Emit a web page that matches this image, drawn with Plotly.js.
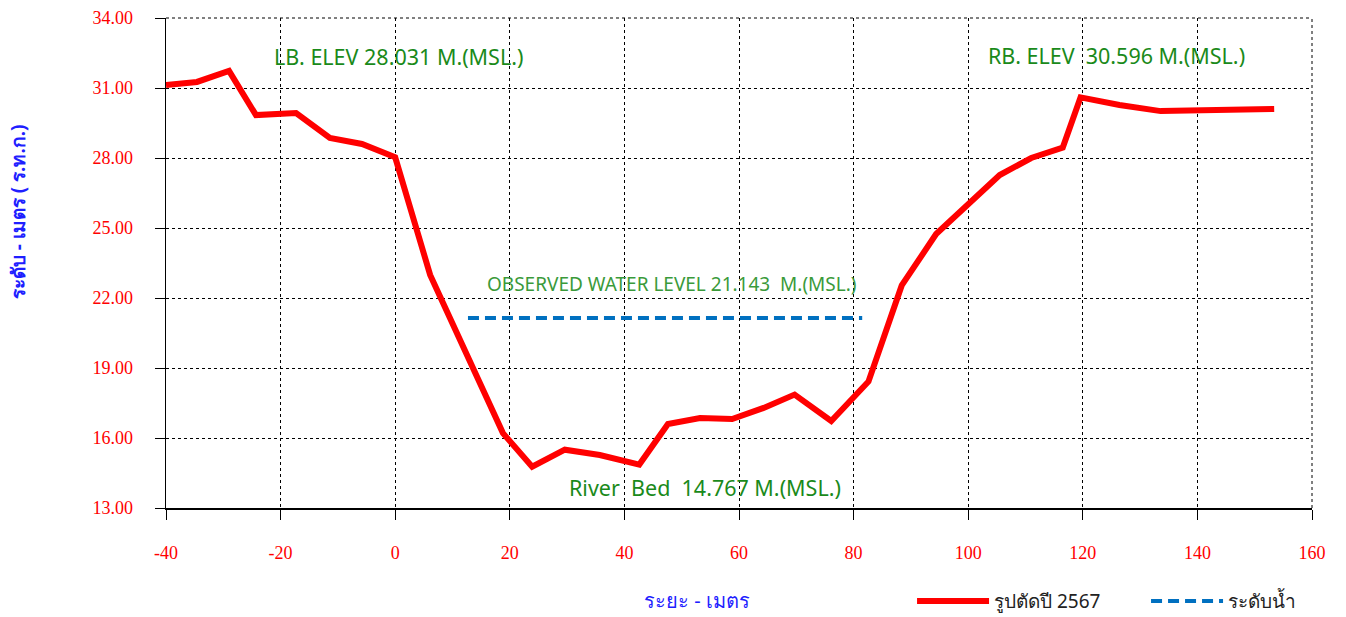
<!DOCTYPE html>
<html>
<head>
<meta charset="utf-8">
<script src="https://cdn.plot.ly/plotly-3.0.1.min.js"></script>
<style>html,body{margin:0;padding:0;background:#fff;}#chart{width:1346px;height:617px;}</style>
</head>
<body>
<div id="chart"></div>
<script>
// Cross-section 2567
const sectionDistance = [-40, -34.6, -29.0, -24.3, -17.3, -11.4, -5.8, 0, 6.1, 12.6, 18.8, 23.9, 29.6, 35.7, 42.6, 47.6, 53.2, 58.8, 64.3, 69.7, 76.1, 82.6, 88.4, 94.4, 105.5, 111.0, 116.5, 119.6, 126.4, 133.6, 153.4];
const sectionElevation = [31.13, 31.26, 31.73, 29.84, 29.93, 28.86, 28.6, 28.031, 22.99, 19.47, 16.21, 14.767, 15.5, 15.27, 14.86, 16.6, 16.86, 16.81, 17.29, 17.86, 16.73, 18.42, 22.54, 24.74, 27.27, 28.0, 28.45, 30.596, 30.27, 30.01, 30.1];
// Observed water level
const waterDistance = [12.7, 81.5];
const waterElevation = [21.143, 21.143];
const xTicks = [-40, -20, 0, 20, 40, 60, 80, 100, 120, 140, 160];
const yTicks = [13, 16, 19, 22, 25, 28, 31, 34];
const seriesNames = ["รูปตัดปี 2567", "ระดับน้ำ"];

const traces = [
  {x: sectionDistance, y: sectionElevation, mode: 'lines', name: seriesNames[0],
   line: {color: '#ff0000', width: 6}},
  {x: waterDistance, y: waterElevation, mode: 'lines', name: seriesNames[1],
   line: {color: '#0070c0', width: 4, dash: '11px,6px'}}
];

const green = '#1a8a1a';
const annFont = 'Noto Sans, Open Sans, sans-serif';
const layout = {
  width: 1346, height: 617,
  margin: {l: 166, r: 34, t: 18, b: 109, autoexpand: false},
  paper_bgcolor: '#ffffff', plot_bgcolor: '#ffffff',
  showlegend: true,
  legend: {orientation: 'h', x: 0.651, y: -0.19, xanchor: 'left', yanchor: 'middle',
    font: {family: 'Noto Sans, sans-serif', size: 19, color: '#222'}, itemwidth: 72,
    entrywidth: 147, bgcolor: 'rgba(0,0,0,0)', tracegroupgap: 0},
  xaxis: {range: [-40, 160], tickvals: xTicks, ticktext: xTicks.map(String),
    showgrid: true, gridcolor: '#000', griddash: 'dot', gridwidth: 1,
    showline: true, linecolor: '#000', linewidth: 1.5, zeroline: false,
    ticks: 'outside', ticklen: 10, tickcolor: '#000', ticklabelstandoff: 18,
    tickfont: {family: 'Liberation Serif, serif', size: 18, color: '#ff0000'},
    automargin: false, fixedrange: true},
  yaxis: {range: [13, 34], tickvals: yTicks, ticktext: yTicks.map(v => v.toFixed(2)),
    showgrid: true, gridcolor: '#000', griddash: 'dot', gridwidth: 1,
    showline: true, linecolor: '#000', linewidth: 1.5, zeroline: false,
    ticks: 'outside', ticklen: 10, tickcolor: '#000', ticklabelstandoff: 18,
    tickfont: {family: 'Liberation Serif, serif', size: 18, color: '#ff0000'},
    automargin: false, fixedrange: true},
  shapes: [
    {type: 'line', xref: 'paper', yref: 'paper', x0: 0, x1: 1, y0: 1, y1: 1, line: {color: '#000', width: 1, dash: 'dot'}},
    {type: 'line', xref: 'paper', yref: 'paper', x0: 1, x1: 1, y0: 0, y1: 1, line: {color: '#000', width: 1, dash: 'dot'}}
  ],
  annotations: [
    {x: -0.129, y: 0.604, xref: 'paper', yref: 'paper', xanchor: 'center', yanchor: 'middle',
     text: '<b>ระดับ - เมตร ( ร.ท.ก.)</b>', textangle: -90,
     showarrow: false, font: {family: 'Noto Sans, sans-serif', size: 19, color: '#1f1fff'}},
    {x: 0.4634, y: -0.188, xref: 'paper', yref: 'paper', xanchor: 'center', yanchor: 'middle',
     text: 'ระยะ - เมตร',
     showarrow: false, font: {family: 'Noto Sans, sans-serif', size: 20, color: '#1f1fff'}},
    {x: 0.5, y: 32.33, xref: 'x', yref: 'y', text: 'LB. ELEV 28.031 M.(MSL.)', showarrow: false,
     font: {family: annFont, size: 21.5, color: green}},
    {x: 125.8, y: 32.4, xref: 'x', yref: 'y', text: 'RB. ELEV  30.596 M.(MSL.)', showarrow: false,
     font: {family: annFont, size: 21.5, color: green}},
    {x: 48.3, y: 22.6, xref: 'x', yref: 'y', text: 'OBSERVED WATER LEVEL 21.143  M.(MSL.)', showarrow: false,
     font: {family: annFont, size: 19, color: '#3a9a3a'}},
    {x: 54.1, y: 13.9, xref: 'x', yref: 'y', text: 'River  Bed  14.767 M.(MSL.)', showarrow: false,
     font: {family: annFont, size: 21.5, color: green}}
  ]
};
Plotly.newPlot('chart', traces, layout, {displayModeBar: false, staticPlot: true});
</script>
</body>
</html>
